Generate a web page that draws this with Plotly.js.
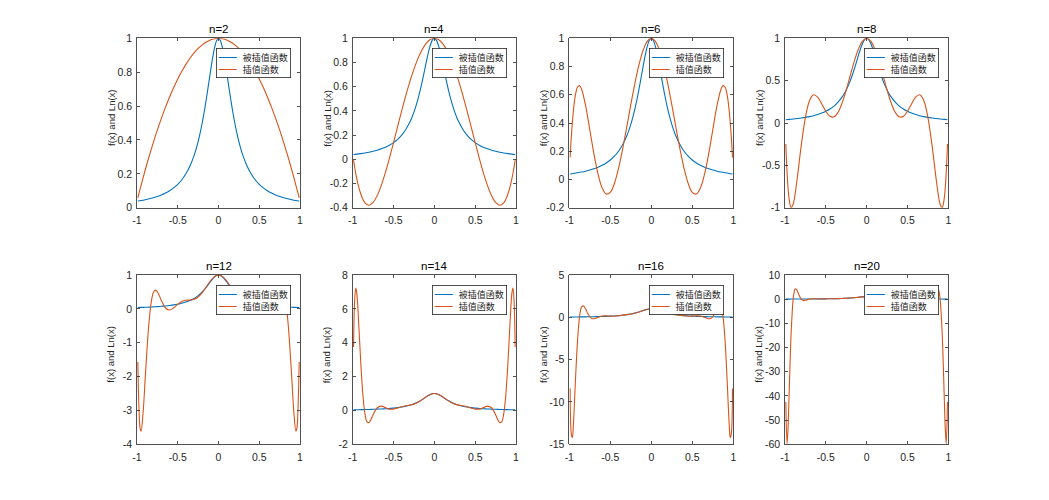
<!DOCTYPE html>
<html>
<head>
<meta charset="utf-8">
<script src="https://cdn.plot.ly/plotly-3.0.1.min.js"></script>
<style>html,body{margin:0;padding:0;background:#fff;}#chart{width:1049px;height:500px;}</style>
</head>
<body>
<div id="chart"></div>
<script>
// ---- data ----
const PANEL_TITLES = ['n=2','n=4','n=6','n=8','n=12','n=14','n=16','n=20'];
const SERIES_NAMES = ['被插值函数','插值函数'];
const Y_LABEL = 'f(x) and Ln(x)';

// interpolated (Runge) function samples
const XF = [-0.99,-0.95,-0.9,-0.85,-0.8,-0.75,-0.7,-0.65,-0.6,-0.55,-0.5,-0.45,-0.4,-0.35,-0.3,-0.275,-0.25,-0.225,-0.2,-0.175,-0.15,-0.125,-0.1,-0.075,-0.05,-0.025,0,0.025,0.05,0.075,0.1,0.125,0.15,0.175,0.2,0.225,0.25,0.275,0.3,0.35,0.4,0.45,0.5,0.55,0.6,0.65,0.7,0.75,0.8,0.85,0.9,0.95,0.99];
const YF = [0.0392,0.0424,0.0471,0.0525,0.0588,0.0664,0.0755,0.0865,0.1,0.1168,0.1379,0.1649,0.2,0.2462,0.3077,0.3459,0.3902,0.4414,0.5,0.5664,0.64,0.7191,0.8,0.8767,0.9412,0.9846,1,0.9846,0.9412,0.8767,0.8,0.7191,0.64,0.5664,0.5,0.4414,0.3902,0.3459,0.3077,0.2462,0.2,0.1649,0.1379,0.1168,0.1,0.0865,0.0755,0.0664,0.0588,0.0525,0.0471,0.0424,0.0392];

// interpolating polynomials
const XA = [-0.99,-0.975,-0.95,-0.925,-0.9,-0.875,-0.85,-0.8,-0.75,-0.7,-0.65,-0.6,-0.55,-0.5,-0.45,-0.4,-0.35,-0.3,-0.25,-0.2,-0.15,-0.1,-0.05,0,0.05,0.1,0.15,0.2,0.25,0.3,0.35,0.4,0.45,0.5,0.55,0.6,0.65,0.7,0.75,0.8,0.85,0.875,0.9,0.925,0.95,0.975,0.99];
const Y_N2 = [0.0576,0.0859,0.1322,0.1773,0.2212,0.2638,0.3053,0.3846,0.4591,0.5288,0.5938,0.6538,0.7091,0.7596,0.8053,0.8462,0.8822,0.9135,0.9399,0.9615,0.9784,0.9904,0.9976,1,0.9976,0.9904,0.9784,0.9615,0.9399,0.9135,0.8822,0.8462,0.8053,0.7596,0.7091,0.6538,0.5938,0.5288,0.4591,0.3846,0.3053,0.2638,0.2212,0.1773,0.1322,0.0859,0.0576];
const Y_N4 = [-0.0071,-0.0697,-0.1596,-0.2323,-0.2891,-0.3312,-0.3595,-0.3793,-0.3568,-0.2997,-0.2152,-0.1101,0.0096,0.1379,0.2698,0.4005,0.5258,0.6419,0.7456,0.8342,0.9054,0.9576,0.9893,1,0.9893,0.9576,0.9054,0.8342,0.7456,0.6419,0.5258,0.4005,0.2698,0.1379,0.0096,-0.1101,-0.2152,-0.2997,-0.3568,-0.3793,-0.3595,-0.3312,-0.2891,-0.2323,-0.1596,-0.0697,-0.0071];
const Y_N6 = [0.1562,0.3051,0.4870,0.5993,0.6547,0.6647,0.6396,0.5192,0.3523,0.1824,0.0392,-0.0590,-0.1030,-0.0914,-0.0285,0.0773,0.2143,0.3696,0.5297,0.6813,0.8128,0.9142,0.9782,1,0.9782,0.9142,0.8128,0.6813,0.5297,0.3696,0.2143,0.0773,-0.0285,-0.0914,-0.1030,-0.0590,0.0392,0.1824,0.3523,0.5192,0.6396,0.6647,0.6547,0.5993,0.4870,0.3051,0.1562];
const Y_N8 = [-0.2480,-0.5740,-0.8917,-0.9980,-0.9601,-0.8310,-0.6519,-0.2587,0.0664,0.2638,0.3327,0.3049,0.2251,0.1379,0.0794,0.0726,0.1266,0.2374,0.3902,0.5636,0.7328,0.8740,0.9674,1,0.9674,0.8740,0.7328,0.5636,0.3902,0.2374,0.1266,0.0726,0.0794,0.1379,0.2251,0.3049,0.3327,0.2638,0.0664,-0.2587,-0.6519,-0.8310,-0.9601,-0.9980,-0.8917,-0.5740,-0.2480];

const XB = [-0.99,-0.975,-0.9625,-0.95,-0.925,-0.9,-0.875,-0.85,-0.825,-0.8,-0.775,-0.75,-0.725,-0.7,-0.65,-0.6,-0.55,-0.5,-0.45,-0.4,-0.35,-0.3,-0.25,-0.2,-0.15,-0.1,-0.05,0,0.05,0.1,0.15,0.2,0.25,0.3,0.35,0.4,0.45,0.5,0.55,0.6,0.65,0.7,0.725,0.75,0.775,0.8,0.825,0.85,0.875,0.9,0.925,0.95,0.9625,0.975,0.99];
const Y_N12 = [-1.5691,-2.9941,-3.5149,-3.6143,-3.0599,-2.0834,-1.1041,-0.3221,0.1989,0.4733,0.5533,0.5030,0.3834,0.2434,0.0258,-0.0346,0.0307,0.1379,0.2197,0.2541,0.2614,0.2819,0.3505,0.4789,0.6497,0.8231,0.9523,1,0.9523,0.8231,0.6497,0.4789,0.3505,0.2819,0.2614,0.2541,0.2197,0.1379,0.0307,-0.0346,0.0258,0.2434,0.3834,0.5030,0.5533,0.4733,0.1989,-0.3221,-1.1041,-2.0834,-3.0599,-3.6143,-3.5149,-2.9941,-1.5691];
const Y_N14 = [3.7451,6.5695,7.2299,6.9424,5.0036,2.7130,0.9080,-0.1923,-0.6689,-0.7130,-0.5226,-0.2546,-0.0106,0.1593,0.2564,0.1677,0.0799,0.0780,0.1440,0.2218,0.2768,0.3159,0.3736,0.4803,0.6372,0.8110,0.9480,1,0.9480,0.8110,0.6372,0.4803,0.3736,0.3159,0.2768,0.2218,0.1440,0.0780,0.0799,0.1677,0.2564,0.1593,-0.0106,-0.2546,-0.5226,-0.7130,-0.6689,-0.1923,0.9080,2.7130,5.0036,6.9424,7.2299,6.5695,3.7451];
const Y_N16 = [-8.395,-13.789,-14.205,-12.644,-7.4739,-2.8121,0.0497,1.2421,1.3487,0.9487,0.4493,0.0664,-0.1326,-0.1698,-0.0021,0.1552,0.1757,0.1379,0.1349,0.1857,0.2576,0.3231,0.3902,0.4886,0.6341,0.8045,0.9452,1,0.9452,0.8045,0.6341,0.4886,0.3902,0.3231,0.2576,0.1857,0.1349,0.1379,0.1757,0.1552,-0.0021,-0.1698,-0.1326,0.0664,0.4493,0.9487,1.3487,1.2421,0.0497,-2.8121,-7.4739,-12.644,-14.205,-13.789,-8.395];

const XC = [-0.99,-0.975,-0.9625,-0.95,-0.925,-0.9,-0.8875,-0.875,-0.8625,-0.85,-0.825,-0.8,-0.775,-0.75,-0.725,-0.7,-0.65,-0.6,-0.55,-0.5,-0.45,-0.4,-0.35,-0.3,-0.25,-0.2,-0.15,-0.1,-0.05,0,0.05,0.1,0.15,0.2,0.25,0.3,0.35,0.4,0.45,0.5,0.55,0.6,0.65,0.7,0.725,0.75,0.775,0.8,0.825,0.85,0.8625,0.875,0.8875,0.9,0.925,0.95,0.9625,0.975,0.99];
const Y_N20 = [-42.471,-59.782,-53.235,-39.953,-14.188,0.0471,3.0709,4.2278,4.1747,3.4550,1.4897,0.0588,-0.4960,-0.4471,-0.1712,0.0755,0.2024,0.1,0.0807,0.1379,0.1798,0.2,0.2385,0.3077,0.3951,0.5,0.6368,0.8,0.9425,1,0.9425,0.8,0.6368,0.5,0.3951,0.3077,0.2385,0.2,0.1798,0.1379,0.0807,0.1,0.2024,0.0755,-0.1712,-0.4471,-0.4960,0.0588,1.4897,3.4550,4.1747,4.2278,3.0709,0.0471,-14.188,-39.953,-53.235,-59.782,-42.471];

// axis ticks
const X_TICKS = [-1,-0.5,0,0.5,1];
const X_TICK_TEXT = ['-1','-0.5','0','0.5','1'];
const Y_RANGES = [[0,1],[-0.4,1],[-0.2,1],[-1,1],[-4,1],[-2,8],[-15,5],[-60,10]];
const Y_TICKS = [
  [0,0.2,0.4,0.6,0.8,1],
  [-0.4,-0.2,0,0.2,0.4,0.6,0.8,1],
  [-0.2,0,0.2,0.4,0.6,0.8,1],
  [-1,-0.5,0,0.5,1],
  [-4,-3,-2,-1,0,1],
  [-2,0,2,4,6,8],
  [-15,-10,-5,0,5],
  [-60,-50,-40,-30,-20,-10,0,10]
];

// ---- layout geometry ----
const W = 1049, H = 500;
const COLS = [[137,300],[352.7,516],[569.3,733.3],[785,948.3]];
const ROWS = [[38.3,207.7],[275,444.3]];
const BLUE = '#0072BD', ORANGE = '#D95319', AX = '#262626';
const FONT = 'Liberation Sans, Arial, Helvetica, sans-serif';
const CJK = 'Noto Sans CJK SC, sans-serif';
const SERIES_COLORS = [BLUE, ORANGE];

const POLY_X = [XA, XA, XA, XA, XB, XB, XB, XC];
const POLY_Y = [Y_N2, Y_N4, Y_N6, Y_N8, Y_N12, Y_N14, Y_N16, Y_N20];

// legend box text: a coloured line sample followed by the series name
const LEGEND_TEXT = SERIES_NAMES.map((nm, k) =>
  '<span style="color:' + SERIES_COLORS[k] + '">\u2501\u2501</span>\u00A0\u00A0\u00A0' + nm
).join('<br>');

const data = [];
const layout = {
  width: W, height: H,
  margin: {l:0, r:0, t:0, b:0},
  paper_bgcolor: '#fff', plot_bgcolor: '#fff',
  showlegend: false,
  annotations: []
};

for (let i = 0; i < 8; i++) {
  const s = i === 0 ? '' : String(i + 1);
  const col = COLS[i % 4], row = ROWS[Math.floor(i / 4)];
  const xd = [col[0] / W, col[1] / W];
  const yd = [1 - row[1] / H, 1 - row[0] / H];

  data.push({
    type: 'scatter', mode: 'lines', x: XF, y: YF,
    xaxis: 'x' + s, yaxis: 'y' + s,
    name: SERIES_NAMES[0],
    line: {color: BLUE, width: 1.1, shape: 'spline', smoothing: 0.8},
    hoverinfo: 'skip'
  });
  data.push({
    type: 'scatter', mode: 'lines', x: POLY_X[i], y: POLY_Y[i],
    xaxis: 'x' + s, yaxis: 'y' + s,
    name: SERIES_NAMES[1],
    line: {color: ORANGE, width: 1.1, shape: 'spline', smoothing: 1},
    hoverinfo: 'skip'
  });

  const common = {
    showline: true, linecolor: AX, linewidth: 0.8, mirror: 'ticks',
    ticks: 'inside', ticklen: 3, tickwidth: 0.8, tickcolor: AX,
    showgrid: false, zeroline: false, fixedrange: true,
    tickfont: {family: FONT, size: 10.5, color: AX}
  };
  layout['xaxis' + s] = Object.assign({}, common, {
    domain: xd, anchor: 'y' + s, range: [-1, 1],
    tickmode: 'array', tickvals: X_TICKS, ticktext: X_TICK_TEXT,
    ticklabelstandoff: 3
  });
  layout['yaxis' + s] = Object.assign({}, common, {
    domain: yd, anchor: 'x' + s, range: Y_RANGES[i],
    tickmode: 'array', tickvals: Y_TICKS[i], ticktext: Y_TICKS[i].map(String),
    ticklabelstandoff: 2
  });

  // legend box
  layout.annotations.push({
    text: LEGEND_TEXT, xref: 'paper', yref: 'paper',
    x: (col[1] - 9.5) / W, y: 1 - (row[0] + 9.5) / H,
    xanchor: 'right', yanchor: 'top', align: 'left', showarrow: false,
    bgcolor: '#fff', bordercolor: AX, borderwidth: 0.8, borderpad: 2,
    font: {family: CJK, size: 9, color: AX}
  });

  // panel title
  layout.annotations.push({
    text: PANEL_TITLES[i], xref: 'paper', yref: 'paper',
    x: (col[0] + col[1]) / 2 / W, y: 1 - (row[0] - 9.5) / H,
    xanchor: 'center', yanchor: 'middle', showarrow: false,
    font: {family: FONT, size: 11.5, color: '#000'}
  });
  // y-axis label
  layout.annotations.push({
    text: Y_LABEL, xref: 'paper', yref: 'paper', textangle: -90,
    x: (col[0] - 26) / W, y: 1 - ((row[0] + row[1]) / 2 - 5) / H,
    xanchor: 'center', yanchor: 'middle', showarrow: false,
    font: {family: FONT, size: 9.5, color: AX}
  });
}

Plotly.newPlot('chart', data, layout, {displayModeBar: false, staticPlot: true});
</script>
</body>
</html>
